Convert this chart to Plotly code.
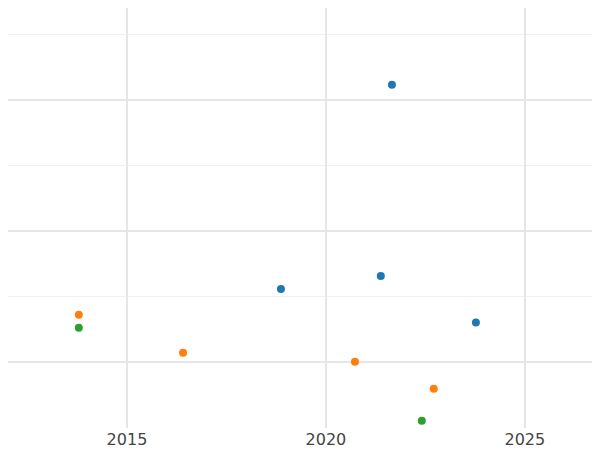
import plotly.graph_objects as go

blue_x = [2021.66, 2018.87, 2021.38, 2023.77]
blue_y = [4.23, 1.11, 1.31, 0.60]
orange_x = [2013.79, 2016.41, 2020.73, 2022.71]
orange_y = [0.72, 0.14, 0.0, -0.41]
green_x = [2013.79, 2022.41]
green_y = [0.52, -0.90]


def main():
    fig = go.Figure()
    for xs, ys, c in [(blue_x, blue_y, "#1f77b4"), (orange_x, orange_y, "#ff7f0e"),
                      (green_x, green_y, "#2ca02c")]:
        fig.add_trace(go.Scatter(x=xs, y=ys, mode="markers",
                                 marker=dict(color=c, size=8)))
    # page body adds an 8px offset, so ranges are set to line up with the reference
    fig.update_layout(
        width=600, height=450, showlegend=False,
        paper_bgcolor="white", plot_bgcolor="white",
        margin=dict(l=0, r=0, t=0, b=30),
        font=dict(family="DejaVu Sans", size=16, color="#444"),
    )
    fig.update_xaxes(range=[2012.01, 2027.09], tick0=2015, dtick=5,
                     showgrid=True, gridcolor="#e6e6e6", gridwidth=1.5,
                     zeroline=False, showline=False, ticks="")
    fig.update_yaxes(range=[-1.01, 5.40], tick0=0, dtick=2, showticklabels=False,
                     showgrid=True, gridcolor="#e6e6e6", gridwidth=1.5,
                     zeroline=False,
                     minor=dict(dtick=1, showgrid=True, gridcolor="#f0f0f0", gridwidth=1))
    fig.write_html("out.html")


main()
